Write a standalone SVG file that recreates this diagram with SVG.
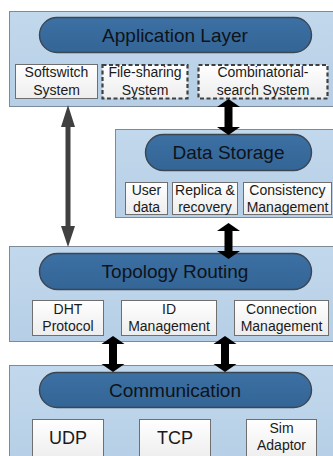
<svg xmlns="http://www.w3.org/2000/svg" width="333" height="456" viewBox="0 0 333 456">
  <defs>
    <linearGradient id="panelFill" x1="0" y1="0" x2="0" y2="1">
      <stop offset="0" stop-color="#c2d8ec"/>
      <stop offset="1" stop-color="#b6cfe6"/>
    </linearGradient>
    <linearGradient id="pillFill" x1="0" y1="0" x2="0" y2="1">
      <stop offset="0" stop-color="#3d70a3"/>
      <stop offset="1" stop-color="#336596"/>
    </linearGradient>
    <linearGradient id="boxFill" x1="0" y1="0" x2="0" y2="1">
      <stop offset="0" stop-color="#ffffff"/>
      <stop offset="1" stop-color="#ededed"/>
    </linearGradient>
  </defs>
  <style>
    .panel { fill: url(#panelFill); stroke: #7d8b99; stroke-width: 1; }
    .pill { fill: url(#pillFill); stroke: #3b4653; stroke-width: 1.4; }
    .box { fill: url(#boxFill); stroke: #6f6f6f; stroke-width: 1; }
    .dashed { fill: url(#boxFill); stroke: #404040; stroke-width: 2.2; stroke-dasharray: 4 2.5; }
    .title { font-family: "Liberation Sans", Arial, sans-serif; font-size: 19px; fill: #0e131a; text-anchor: middle; }
    .label { font-family: "Liberation Sans", Arial, sans-serif; font-size: 14px; fill: #1a1a1a; text-anchor: middle; }
    .big { font-size: 18px; }
    .gray { fill: #404040; }
    .black { fill: #000000; }
  </style>

  <!-- Application layer -->
  <g id="application-layer">
    <rect class="panel" x="9.5" y="11.5" width="330" height="95"/>
    <rect class="pill" x="39.5" y="17.5" width="272" height="35" rx="17.5"/>
    <text class="title" x="175" y="41.5">Application Layer</text>
  </g>
  <g id="softswitch">
    <rect class="box" x="15.5" y="64.5" width="82" height="34"/>
    <text class="label" x="56.5" y="77">Softswitch</text>
    <text class="label" x="56.5" y="95">System</text>
  </g>
  <g id="file-sharing">
    <rect class="dashed" x="102.5" y="65" width="85" height="33.5"/>
    <text class="label" x="145" y="77">File-sharing</text>
    <text class="label" x="145" y="95">System</text>
  </g>
  <g id="combinatorial-search">
    <rect class="dashed" x="198.5" y="65" width="129" height="33.5"/>
    <text class="label" x="263" y="77">Combinatorial-</text>
    <text class="label" x="263" y="95">search System</text>
  </g>

  <!-- Data storage -->
  <g id="data-storage">
    <rect class="panel" x="115.5" y="129.5" width="224" height="88"/>
    <rect class="pill" x="145.5" y="134.5" width="166" height="36" rx="18"/>
    <text class="title" x="228.5" y="159">Data Storage</text>
  </g>
  <g id="user-data">
    <rect class="box" x="125.5" y="182.5" width="42" height="32"/>
    <text class="label" x="146.5" y="195">User</text>
    <text class="label" x="146.5" y="212">data</text>
  </g>
  <g id="replica-recovery">
    <rect class="box" x="172.5" y="182.5" width="65" height="32"/>
    <text class="label" x="205" y="195">Replica &amp;</text>
    <text class="label" x="205" y="212">recovery</text>
  </g>
  <g id="consistency-management">
    <rect class="box" x="243.5" y="182.5" width="88" height="32"/>
    <text class="label" x="287.5" y="195">Consistency</text>
    <text class="label" x="287.5" y="212">Management</text>
  </g>

  <!-- Topology routing -->
  <g id="topology-routing">
    <rect class="panel" x="9.5" y="246.5" width="330" height="95"/>
    <rect class="pill" x="39.5" y="253.5" width="272" height="36" rx="18"/>
    <text class="title" x="175" y="278">Topology Routing</text>
  </g>
  <g id="dht-protocol">
    <rect class="box" x="32.5" y="300.5" width="71" height="35"/>
    <text class="label" x="68" y="314">DHT</text>
    <text class="label" x="68" y="331">Protocol</text>
  </g>
  <g id="id-management">
    <rect class="box" x="121.5" y="300.5" width="95" height="35"/>
    <text class="label" x="169" y="314">ID</text>
    <text class="label" x="169" y="331">Management</text>
  </g>
  <g id="connection-management">
    <rect class="box" x="234.5" y="300.5" width="94" height="35"/>
    <text class="label" x="281.5" y="314">Connection</text>
    <text class="label" x="281.5" y="331">Management</text>
  </g>

  <!-- Communication -->
  <g id="communication">
    <rect class="panel" x="9.5" y="365.5" width="330" height="100"/>
    <rect class="pill" x="39.5" y="372.5" width="272" height="35" rx="17.5"/>
    <text class="title" x="175" y="397">Communication</text>
  </g>
  <g id="udp">
    <rect class="box" x="32.5" y="419.5" width="71" height="40"/>
    <text class="label big" x="68" y="444">UDP</text>
  </g>
  <g id="tcp">
    <rect class="box" x="139.5" y="419.5" width="71" height="40"/>
    <text class="label big" x="175" y="444">TCP</text>
  </g>
  <g id="sim-adaptor">
    <rect class="box" x="246.5" y="419.5" width="70" height="40"/>
    <text class="label" x="281.5" y="433">Sim</text>
    <text class="label" x="281.5" y="450">Adaptor</text>
  </g>

  <!-- Connectors: double-headed arrows between layers -->
  <g id="connectors">
    <polygon class="gray" points="68,105 75,127 70.5,127 70.5,226 75,226 68,247 61,226 65.5,226 65.5,127 61,127"/>
    <polygon class="black" points="228.5,99 240,107 232.5,107 232.5,127 240,127 228.5,135 217,127 224.5,127 224.5,107 217,107"/>
    <polygon class="black" points="228.5,223 240,231 232.5,231 232.5,251 240,251 228.5,259 217,251 224.5,251 224.5,231 217,231"/>
    <polygon class="black" points="113,336 124.5,344 117,344 117,364 124.5,364 113,372 101.5,364 109,364 109,344 101.5,344"/>
    <polygon class="black" points="225,336 236.5,344 229,344 229,364 236.5,364 225,372 213.5,364 221,364 221,344 213.5,344"/>
  </g>
</svg>
